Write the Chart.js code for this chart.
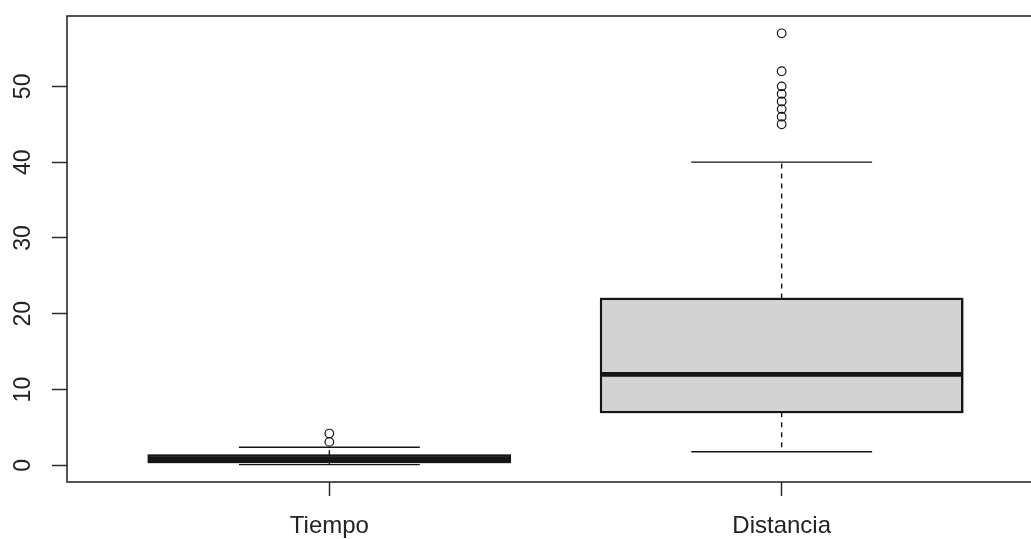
<!DOCTYPE html>
<html>
<head>
<meta charset="utf-8">
<script src="https://cdn.jsdelivr.net/npm/chart.js@4/dist/chart.umd.min.js"></script>
<style>
  html, body { margin: 0; padding: 0; background: #ffffff; overflow: hidden; }
  #wrap { width: 1050px; height: 539px; }
</style>
</head>
<body>
<div id="wrap"><canvas id="c" width="1050" height="539"></canvas></div>
<script>
// Five-number summaries per variable
const categories = ['Tiempo', 'Distancia'];
const lowerWhisker = [0.1, 1.8];
const q1 = [0.4, 7];
const median = [0.9, 12];
const q3 = [1.35, 22];
const upperWhisker = [2.4, 40];

// Points beyond the whiskers
const outliersTiempo = [3.1, 4.2];
const outliersDistancia = [45, 46, 47, 48, 49, 50, 52, 57];

// Axis ticks
const yTicks = [0, 10, 20, 30, 40, 50];
const xTicks = [1, 2];

const boxData = categories.map((c, i) => ({ x: i + 1, y: [q1[i], q3[i]] }));
const outlierData = [
  ...outliersTiempo.map(v => ({ x: 1, y: v })),
  ...outliersDistancia.map(v => ({ x: 2, y: v }))
];

const INK = '#151515';

// Whiskers, staples, medians and the frame around the plot region
const boxplotExtras = {
  id: 'boxplotExtras',
  afterDatasetsDraw(chart) {
    const ctx = chart.ctx;
    const ys = chart.scales.y;
    const meta = chart.getDatasetMeta(1);
    ctx.save();
    meta.data.forEach((bar, i) => {
      const x = bar.x;
      const half = bar.width / 2;
      const yLo = ys.getPixelForValue(lowerWhisker[i]);
      const yQ1 = ys.getPixelForValue(q1[i]);
      const yQ3 = ys.getPixelForValue(q3[i]);
      const yHi = ys.getPixelForValue(upperWhisker[i]);
      const yMed = ys.getPixelForValue(median[i]);

      // dashed whiskers
      ctx.strokeStyle = INK;
      ctx.lineWidth = 1.4;
      ctx.setLineDash([5, 5]);
      ctx.beginPath();
      ctx.moveTo(x, yQ3); ctx.lineTo(x, yHi);
      ctx.moveTo(x, yQ1); ctx.lineTo(x, yLo);
      ctx.stroke();

      // staples (half the box width)
      ctx.setLineDash([]);
      ctx.beginPath();
      ctx.moveTo(x - half / 2, yHi); ctx.lineTo(x + half / 2, yHi);
      ctx.moveTo(x - half / 2, yLo); ctx.lineTo(x + half / 2, yLo);
      ctx.stroke();

      // box outline redrawn over the whisker ends
      ctx.lineWidth = 1.6;
      ctx.strokeRect(x - half, yQ3, bar.width, yQ1 - yQ3);

      // median
      ctx.lineWidth = 4.8;
      ctx.lineCap = 'butt';
      ctx.beginPath();
      ctx.moveTo(x - half, yMed); ctx.lineTo(x + half, yMed);
      ctx.stroke();
    });

    // frame
    const a = chart.chartArea;
    ctx.strokeStyle = '#2b2b2b';
    ctx.lineWidth = 1.6;
    ctx.strokeRect(a.left, a.top, a.right - a.left, a.bottom - a.top);
    ctx.restore();
  }
};

new Chart(document.getElementById('c'), {
  data: {
    datasets: [
      {
        type: 'scatter',
        data: outlierData,
        pointStyle: 'circle',
        pointRadius: 4.3,
        pointBorderWidth: 1.2,
        pointBorderColor: INK,
        pointBackgroundColor: 'rgba(0,0,0,0)',
        order: 0
      },
      {
        type: 'bar',
        data: boxData,
        backgroundColor: '#d3d3d3',
        borderColor: INK,
        borderWidth: 1.6,
        borderSkipped: false,
        barPercentage: 0.8,
        categoryPercentage: 1.0,
        order: 1
      }
    ]
  },
  plugins: [boxplotExtras],
  options: {
    responsive: false,
    devicePixelRatio: 1,
    animation: false,
    layout: { padding: { top: 16, right: 6, left: 0, bottom: 0 } },
    plugins: {
      legend: { display: false },
      tooltip: { enabled: false }
    },
    scales: {
      x: {
        type: 'linear',
        offset: false,
        min: 0.42,
        max: 2.58,
        afterBuildTicks: s => { s.ticks = xTicks.map(v => ({ value: v })); },
        afterFit: s => {
          s.height = 57;
          s.paddingLeft = 0;
          s.paddingRight = 0;
        },
        grid: {
          display: true,
          offset: false,
          drawOnChartArea: false,
          drawTicks: true,
          tickLength: 14,
          tickColor: '#2b2b2b',
          tickWidth: 1.5
        },
        border: { display: false },
        ticks: {
          autoSkip: false,
          maxRotation: 0,
          minRotation: 0,
          padding: 16,
          color: '#222222',
          font: { family: '"Liberation Sans", Arial, sans-serif', size: 24 },
          callback: v => categories[v - 1]
        }
      },
      y: {
        type: 'linear',
        min: -2.19,
        max: 59.28,
        afterBuildTicks: s => { s.ticks = yTicks.map(v => ({ value: v })); },
        afterFit: s => {
          s.width = 67;
          s.paddingTop = 0;
          s.paddingBottom = 0;
        },
        grid: {
          display: true,
          drawOnChartArea: false,
          drawTicks: true,
          tickLength: 15,
          tickColor: '#2b2b2b',
          tickWidth: 1.5
        },
        border: { display: false },
        ticks: {
          autoSkip: false,
          minRotation: 90,
          maxRotation: 90,
          crossAlign: 'center',
          padding: 16,
          color: '#222222',
          font: { family: '"Liberation Sans", Arial, sans-serif', size: 23 }
        }
      }
    }
  }
});
</script>
</body>
</html>
